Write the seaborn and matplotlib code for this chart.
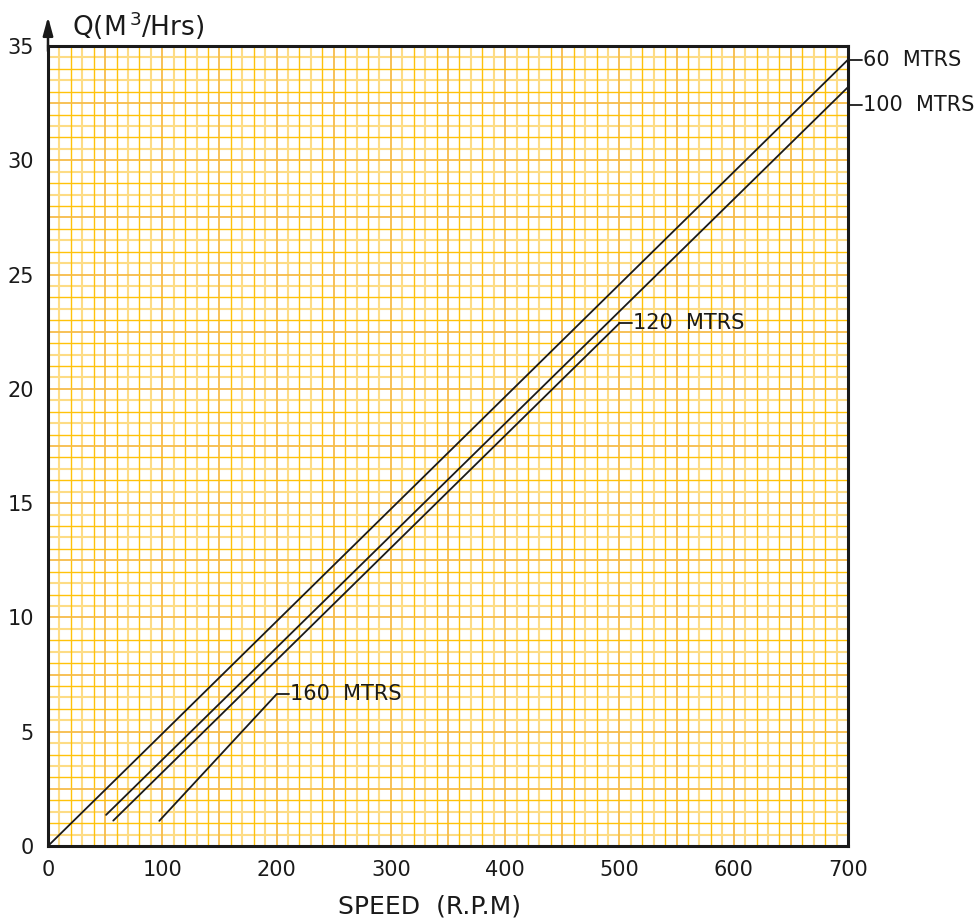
import numpy as np
import pandas as pd
import matplotlib
matplotlib.use("Agg")
import matplotlib.pyplot as plt
import seaborn as sns

# Pump curves: speed (rpm) vs discharge Q (m3/hr) for each head
heads = ["60  MTRS", "100  MTRS", "120  MTRS", "160  MTRS"]
speed_start = [0, 50.8, 57.1, 97.4]
speed_end = [700, 700, 500, 200]
q_start = [0.0, 1.36, 1.11, 1.10]
q_end = [34.4, 33.2, 22.87, 6.64]

# label anchors (speed, Q) for each head
label_x = [700, 700, 500, 200]
label_y = [34.4, 32.4, 22.87, 6.64]

x_ticks = [0, 100, 200, 300, 400, 500, 600, 700]
y_ticks = [0, 5, 10, 15, 20, 25, 30, 35]

rows = []
for h, x0, x1, y0, y1 in zip(heads, speed_start, speed_end, q_start, q_end):
    rows.append({"head": h, "speed": x0, "q": y0})
    rows.append({"head": h, "speed": x1, "q": y1})
df = pd.DataFrame(rows)

sns.set_style("white")
plt.rcParams["font.family"] = ["DejaVu Sans"]

fig = plt.figure(figsize=(9.76, 9.22), dpi=100)
ax = fig.add_axes([48 / 976, 76 / 922, 800 / 976, 800 / 922])

# graph paper grid
for v in np.arange(10, 700, 10):
    if v % 50 == 0:
        ax.axvline(v, color="#F7BC4A", lw=1.3, zorder=1)
    elif (v // 10) % 2 == 1:
        ax.axvline(v, color="#FDDC85", lw=1.5, zorder=0.9)
    else:
        ax.axvline(v, color="#FFC20A", lw=1.0, zorder=1)
for v in np.arange(0.5, 35, 0.5):
    if abs(v / 2.5 - round(v / 2.5)) < 1e-9:
        ax.axhline(v, color="#F7BC4A", lw=1.3, zorder=1)
    elif abs(v - round(v)) > 1e-9:
        ax.axhline(v, color="#FDDC85", lw=1.5, zorder=0.9)
    else:
        ax.axhline(v, color="#FFC20A", lw=1.0, zorder=1)

sns.lineplot(data=df, x="speed", y="q", units="head", estimator=None,
             color="#1a1a1a", lw=1.3, ax=ax, zorder=3, legend=False)

ax.set_xlim(0, 700)
ax.set_ylim(0, 35)
ax.set_xticks(x_ticks)
ax.set_yticks(y_ticks)
ax.tick_params(axis="both", direction="out", length=7, width=1.6,
               color="#1a1a1a", labelsize=15, labelcolor="#1a1a1a", pad=3)
ax.set_xlabel("")
ax.set_ylabel("")
for s in ax.spines.values():
    s.set_color("#1a1a1a")
    s.set_linewidth(2.2)
    s.set_zorder(5)

fig.text(430 / 976, 1 - 906 / 922, "SPEED  (R.P.M)", fontsize=18,
         color="#1a1a1a", va="center", ha="center")

# y-axis arrow
ax.annotate("", xy=(0, 1.04), xytext=(0, 0.99), xycoords="axes fraction",
            arrowprops=dict(arrowstyle="-|>,head_width=0.3,head_length=1.1",
                            color="#1a1a1a", lw=1.8), annotation_clip=False)
fig.text(72 / 976, 1 - 26 / 922, "Q(M$^{\\,3}$/Hrs)", fontsize=19,
         color="#1a1a1a", va="center", ha="left")

# head labels with leaders
for i, h in enumerate(heads):
    lx, ly = label_x[i], label_y[i]
    if i < 2:
        ax.plot([lx, lx + 12], [ly, ly], color="#1a1a1a", lw=1.3, clip_on=False, zorder=4)
        ax.text(lx + 13, ly, h, fontsize=15, va="center", ha="left", color="#1a1a1a")
    else:
        ax.plot([lx, lx + 11], [ly, ly], color="#1a1a1a", lw=1.3, zorder=4)
        ax.text(lx + 12, ly, h, fontsize=15, va="center", ha="left", color="#1a1a1a",
                zorder=4)

plt.savefig("out.png", dpi=100)
plt.close()
